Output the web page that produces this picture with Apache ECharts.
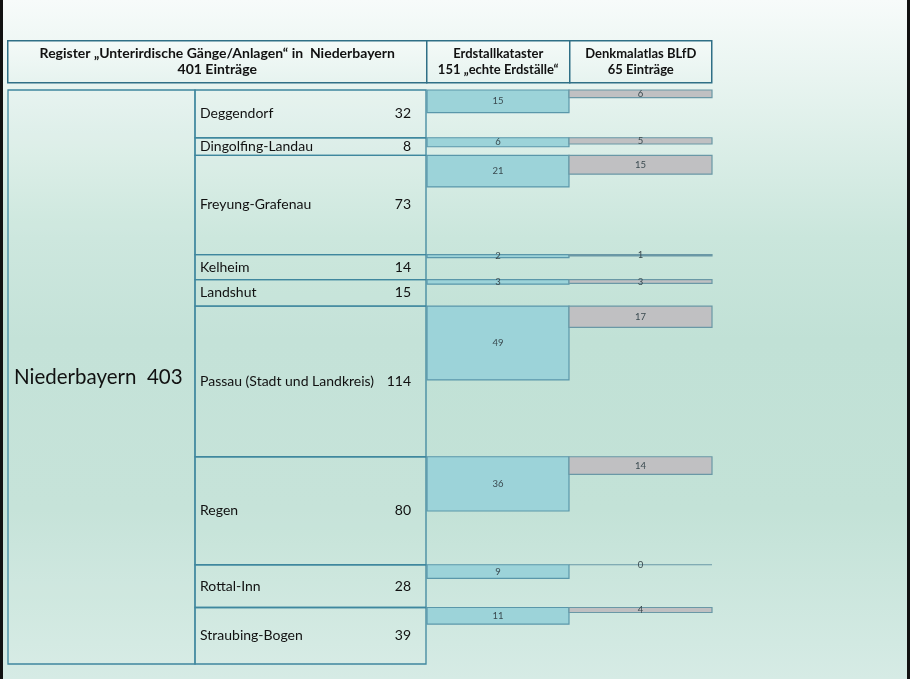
<!DOCTYPE html>
<html><head><meta charset="utf-8">
<script src="https://cdn.jsdelivr.net/npm/echarts@6/dist/echarts.min.js"></script>
<style>html,body{margin:0;padding:0;}#c{width:910px;height:679px;}</style>
</head><body><div id="c"></div>
<script>
// ---- data ----
const districts = ['Deggendorf','Dingolfing-Landau','Freyung-Grafenau','Kelheim','Landshut','Passau (Stadt und Landkreis)','Regen','Rottal-Inn','Straubing-Bogen'];
const registerCounts = [32, 8, 73, 14, 15, 114, 80, 28, 39];
const erdstallCounts = [15, 6, 21, 2, 3, 49, 36, 9, 11];
const denkmalCounts  = [6, 5, 15, 1, 3, 17, 14, 0, 4];
const regionName = 'Niederbayern';
const regionTotal = 403;
const headerTexts = [
  'Register \u201eUnterirdische G\u00e4nge/Anlagen\u201c in  Niederbayern\n401 Eintr\u00e4ge',
  'Erdstallkataster\n151 \u201eechte Erdst\u00e4lle\u201c',
  'Denkmalatlas BLfD\n65 Eintr\u00e4ge'
];

// ---- layout constants (display only) ----
const ROW_PAD = 6;          // extra room per district row, in axis units
const ERD_SCALE = 1.2;      // display scale of the Erdstallkataster bars
const DEN_SCALE = 1.0;      // display scale of the Denkmalatlas bars
const FONT = 'Lato';
const BORDER = '#3f879e';

// ---- derived ----
const starts = [];
let acc = 0;
registerCounts.forEach(v => { starts.push(acc); acc += v + ROW_PAD; });
const axisMax = acc;

const chart = echarts.init(document.getElementById('c'));

function grid(left, width) { return { left: left, width: width, top: 90, height: 574 }; }
const grids = [grid(8, 187), grid(195, 231), grid(427, 142), grid(569, 143)];
const xAxes = grids.map((g, i) => ({ gridIndex: i, type: 'value', min: 0, max: 1, show: false }));
const yAxes = grids.map((g, i) => ({ gridIndex: i, type: 'value', min: 0, max: axisMax, inverse: true, show: false }));

const regionSeries = {
  type: 'custom', xAxisIndex: 0, yAxisIndex: 0,
  data: [[0, axisMax, regionTotal]],
  renderItem: function (params, api) {
    const p0 = api.coord([0, api.value(0)]);
    const p1 = api.coord([1, api.value(1)]);
    return { type: 'group', children: [
      { type: 'rect', shape: { x: p0[0], y: p0[1], width: p1[0] - p0[0], height: p1[1] - p0[1] },
        style: { fill: 'rgba(255,255,255,0.06)', stroke: BORDER, lineWidth: 1.3 } },
      { type: 'text', style: { x: p0[0] + 6, y: (p0[1] + p1[1]) / 2, text: regionName + '  ' + api.value(2),
        fill: '#111', font: '20.5px ' + FONT, verticalAlign: 'middle', align: 'left' } }
    ]};
  }
};

const districtSeries = {
  type: 'custom', xAxisIndex: 1, yAxisIndex: 1,
  data: districts.map((d, i) => [starts[i], registerCounts[i], i]),
  renderItem: function (params, api) {
    const s = api.value(0), v = api.value(1), i = api.value(2);
    const p0 = api.coord([0, s]);
    const p1 = api.coord([1, s + v + ROW_PAD]);
    const cy = (p0[1] + p1[1]) / 2;
    return { type: 'group', children: [
      { type: 'rect', shape: { x: p0[0], y: p0[1], width: p1[0] - p0[0], height: p1[1] - p0[1] },
        style: { fill: 'rgba(255,255,255,0.05)', stroke: BORDER, lineWidth: 1.3 } },
      { type: 'text', style: { x: p0[0] + 5, y: cy, text: districts[i], fill: '#111',
        font: '14px ' + FONT, verticalAlign: 'middle', align: 'left' } },
      { type: 'text', style: { x: p1[0] - 15, y: cy, text: String(v), fill: '#111',
        font: '14px ' + FONT, verticalAlign: 'middle', align: 'right' } }
    ]};
  }
};

function barSeries(idx, values, scale, fill, stroke) {
  return {
    type: 'custom', xAxisIndex: idx, yAxisIndex: idx,
    data: values.map((v, i) => [starts[i], v]),
    renderItem: function (params, api) {
      const s = api.value(0), v = api.value(1);
      const p0 = api.coord([0, s]);
      const p1 = api.coord([1, s + v * scale]);
      return { type: 'group', children: [
        { type: 'rect', shape: { x: p0[0], y: p0[1], width: p1[0] - p0[0], height: p1[1] - p0[1] },
          style: { fill: v > 0 ? fill : 'none', stroke: stroke, lineWidth: 1.2 } },
        { type: 'text', style: { x: (p0[0] + p1[0]) / 2, y: (p0[1] + p1[1]) / 2, text: String(v),
          fill: '#3a4a50', font: '9.5px ' + FONT, verticalAlign: 'middle', align: 'center' } }
      ]};
    }
  };
}

const headerBoxes = [[7, 419, 14], [426, 143, 13], [569, 142, 13]];
const headerGraphics = headerBoxes.map((b, i) => ({
  type: 'group', left: b[0], top: 40,
  children: [
    { type: 'rect', shape: { x: 0, y: 0, width: b[1], height: 42 },
      style: { fill: { type: 'linear', x: 0, y: 0, x2: 0, y2: 1, colorStops: [{ offset: 0, color: '#f4faf8' }, { offset: 1, color: '#e6f3ef' }] },
        stroke: '#2f6f86', lineWidth: 1.5 } },
    { type: 'text', style: { x: b[1] / 2, y: 21, text: headerTexts[i], fill: '#111', align: 'center', verticalAlign: 'middle',
        font: 'bold ' + b[2] + 'px ' + FONT, lineHeight: 16 } }
  ]
}));

chart.setOption({
  animation: false,
  backgroundColor: { type: 'linear', x: 0, y: 0, x2: 0, y2: 1, colorStops: [
    { offset: 0, color: '#f7fbfa' }, { offset: 0.35, color: '#cae6dc' }, { offset: 0.5, color: '#c1e1d6' },
    { offset: 0.75, color: '#c3e2d7' }, { offset: 1, color: '#d6ebe5' } ] },
  grid: grids,
  xAxis: xAxes,
  yAxis: yAxes,
  series: [
    regionSeries,
    districtSeries,
    barSeries(2, erdstallCounts, ERD_SCALE, '#9cd3d9', '#5a97aa'),
    barSeries(3, denkmalCounts, DEN_SCALE, '#c0c0c2', '#6a98a6')
  ],
  graphic: headerGraphics.concat([
    { type: 'rect', left: 0, top: 0, shape: { width: 3, height: 679 }, style: { fill: '#111' } },
    { type: 'rect', left: 907, top: 0, shape: { width: 3, height: 679 }, style: { fill: '#111' } }
  ])
});
</script>
</body></html>
